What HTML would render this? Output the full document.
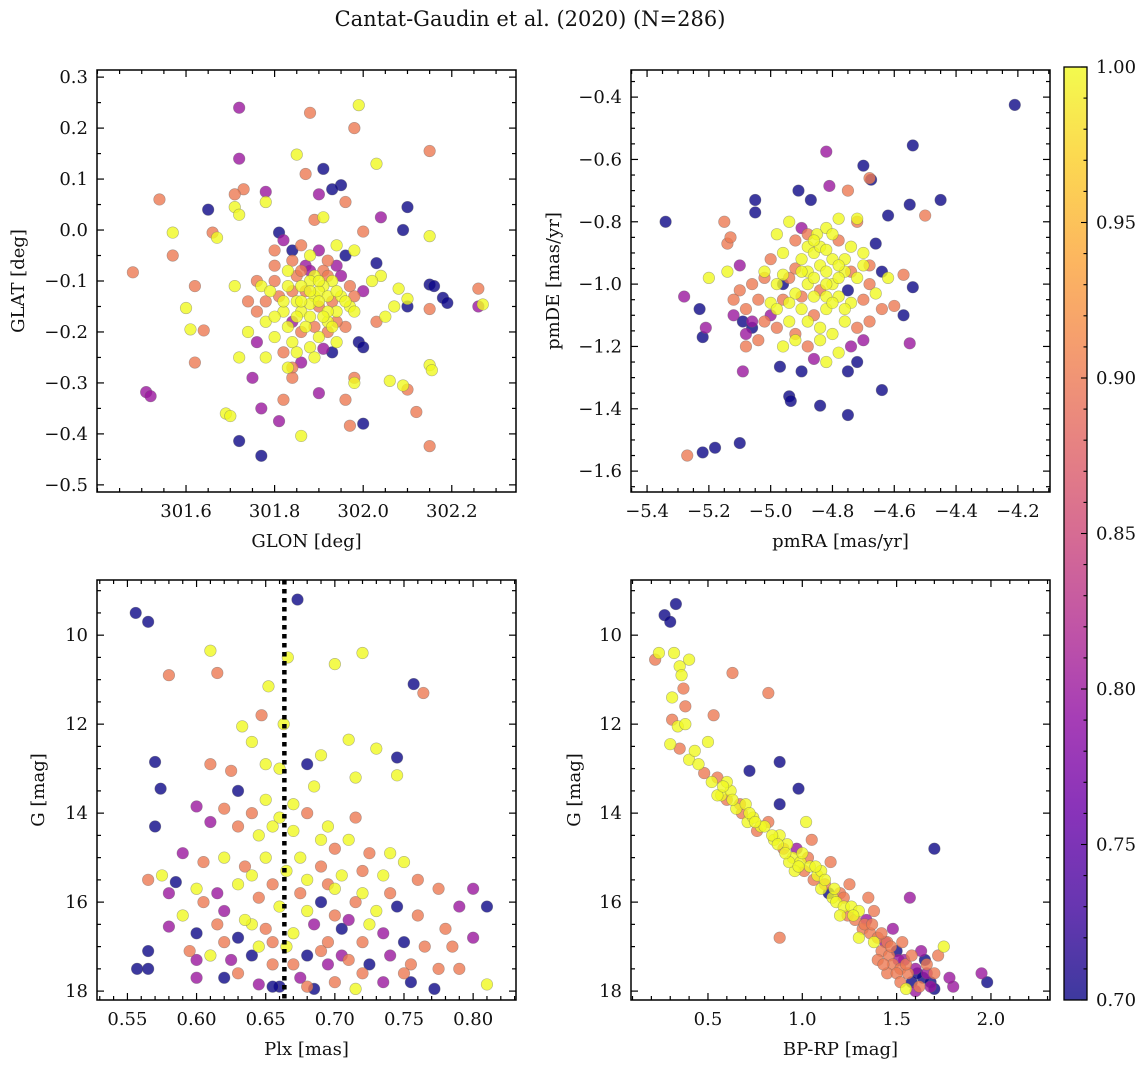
<!DOCTYPE html>
<html><head><meta charset="utf-8">
<style>
body{margin:0;background:#fff;}
svg text{font-family:"DejaVu Serif","Liberation Serif",serif;fill:#111;}
</style></head>
<body>
<svg id="chart" width="1148" height="1067" xmlns="http://www.w3.org/2000/svg">
<defs>
<linearGradient id="plasma" x1="0" y1="1" x2="0" y2="0">
<stop offset="0" stop-color="#0d0887"/><stop offset="0.1" stop-color="#41049d"/><stop offset="0.2" stop-color="#6a00a8"/><stop offset="0.3" stop-color="#8f0da4"/><stop offset="0.4" stop-color="#b12a90"/><stop offset="0.5" stop-color="#cc4778"/><stop offset="0.6" stop-color="#e16462"/><stop offset="0.7" stop-color="#f2844b"/><stop offset="0.8" stop-color="#fca636"/><stop offset="0.9" stop-color="#fcce25"/><stop offset="1" stop-color="#f0f921"/>
</linearGradient>
</defs>
<text x="530" y="26" font-size="21" text-anchor="middle">Cantat-Gaudin et al. (2020) (N=286)</text>
</svg>
<script>
// Panel 1: GLON / GLAT / probability
const p1Points = [[301.72,0.24,.8],[301.88,0.23,.9],[301.99,0.245,1],[301.98,0.20,.9],[301.72,0.14,.8],[302.15,0.155,.9],[301.85,0.148,1],[301.91,0.12,.7],[302.03,0.13,1],[301.54,0.06,.9],[301.73,0.08,.9],[301.71,0.07,.9],[301.78,0.075,.8],[301.87,0.11,.9],[301.95,0.088,.7],[301.93,0.08,.7],[301.65,0.04,.7],[301.71,0.045,1],[301.72,0.03,1],[301.78,0.055,1],[301.90,0.07,.8],[301.57,-0.005,1],[301.66,-0.005,.9],[301.67,-0.015,1],[301.81,-0.005,.7],[301.91,0.025,1],[301.89,0.02,.9],[301.96,0.055,.9],[302.0,-0.003,.9],[302.04,0.025,.8],[302.09,0.0,.7],[302.10,0.045,.7],[302.15,-0.012,1],[301.48,-0.083,.9],[301.57,-0.05,.9],[301.60,-0.153,1],[301.61,-0.195,1],[301.64,-0.197,.9],[301.62,-0.11,.9],[301.62,-0.26,.9],[301.71,-0.11,1],[301.77,-0.11,1],[301.51,-0.318,.8],[301.52,-0.326,.8],[301.69,-0.36,1],[301.70,-0.365,1],[301.72,-0.414,.7],[301.77,-0.443,.7],[301.77,-0.35,.8],[301.81,-0.375,.8],[301.82,-0.333,.9],[301.84,-0.27,.9],[301.84,-0.29,.9],[301.86,-0.404,1],[301.90,-0.32,.8],[301.96,-0.333,.9],[301.97,-0.384,.9],[302.0,-0.38,.7],[301.98,-0.30,1],[301.98,-0.29,.9],[302.06,-0.296,1],[302.09,-0.305,1],[302.10,-0.313,.9],[302.12,-0.357,.9],[302.15,-0.424,.9],[302.15,-0.265,1],[302.155,-0.275,1],[302.15,-0.155,.9],[302.15,-0.107,.7],[302.16,-0.11,.7],[302.18,-0.133,.7],[302.19,-0.143,.7],[302.26,-0.115,.9],[302.26,-0.15,.8],[302.27,-0.146,1],[302.1,-0.15,.7],[302.1,-0.135,1],[302.08,-0.115,1],[302.07,-0.15,1],[302.04,-0.09,1],[302.03,-0.065,.7],[302.02,-0.1,1],[301.99,-0.22,.7],[302.0,-0.23,.7],[301.91,-0.233,.8],[301.93,-0.24,.7],
[301.82,-0.02,.8],[301.84,-0.04,.7],[301.86,-0.03,.9],[301.88,-0.05,1],[301.90,-0.04,.8],[301.92,-0.06,.9],[301.94,-0.03,1],[301.96,-0.05,.7],[301.98,-0.04,1],[301.80,-0.07,.9],[301.83,-0.08,1],[301.85,-0.09,.9],[301.87,-0.07,.8],[301.89,-0.09,1],[301.91,-0.08,.9],[301.93,-0.10,1],[301.95,-0.09,.8],[301.97,-0.11,.9],[301.79,-0.12,1],[301.81,-0.13,.9],[301.83,-0.11,1],[301.85,-0.14,1],[301.87,-0.12,.9],[301.89,-0.13,1],[301.91,-0.11,1],[301.93,-0.14,.9],[301.95,-0.13,1],[301.97,-0.15,1],[301.76,-0.16,.9],[301.78,-0.18,1],[301.82,-0.16,1],[301.84,-0.18,.8],[301.86,-0.16,1],[301.88,-0.17,1],[301.90,-0.15,.9],[301.92,-0.18,1],[301.94,-0.16,1],[301.96,-0.19,.9],[301.74,-0.14,.9],[301.76,-0.22,.8],[301.80,-0.21,1],[301.82,-0.24,.9],[301.84,-0.22,1],[301.86,-0.20,.9],[301.88,-0.23,1],[301.90,-0.21,1],[301.92,-0.20,.9],[301.94,-0.22,1],[301.78,-0.25,1],[301.86,-0.26,.8],[301.88,-0.10,1],[301.90,-0.12,1],[301.86,-0.11,1],[301.92,-0.13,1],[301.88,-0.145,1],[301.74,-0.2,1],[301.72,-0.25,1],[301.75,-0.29,.8],[302.05,-0.17,1],[302.03,-0.18,.9],
[301.84,-0.06,.9],[301.86,-0.08,.9],[301.88,-0.08,.8],[301.90,-0.10,1],[301.92,-0.09,.9],[301.94,-0.12,1],[301.96,-0.14,1],[301.98,-0.13,.9],[301.80,-0.10,.9],[301.82,-0.14,1],[301.84,-0.12,.9],[301.86,-0.14,1],[301.88,-0.12,1],[301.90,-0.14,1],[301.92,-0.16,1],[301.94,-0.18,.9],[301.80,-0.17,1],[301.83,-0.19,1],[301.85,-0.17,1],[301.87,-0.19,1],[301.89,-0.19,.9],[301.91,-0.17,1],[301.93,-0.19,1],[301.85,-0.24,1],[301.89,-0.25,1],[301.83,-0.27,1],[301.78,-0.14,.9],[301.76,-0.10,.9],[301.98,-0.16,1],[302.0,-0.12,.8],[301.94,-0.07,.8],[301.80,-0.04,.9]];
const p1XTicks = [301.6,301.8,302.0,302.2];
const p1YTicks = [-0.5,-0.4,-0.3,-0.2,-0.1,0.0,0.1,0.2,0.3];
// Panel 2: pmRA / pmDE / probability
const p2Points = [[-4.21,-0.425,.7],[-4.54,-0.555,.7],[-4.82,-0.575,.8],[-4.70,-0.62,.7],[-4.68,-0.66,.9],[-4.675,-0.665,.7],[-4.81,-0.685,.8],[-4.75,-0.70,.9],[-4.91,-0.70,.7],[-4.87,-0.73,.7],[-4.62,-0.78,.7],[-4.55,-0.745,.7],[-4.45,-0.73,.7],[-4.50,-0.78,.9],[-5.05,-0.73,.7],[-5.05,-0.77,.7],[-5.34,-0.80,.7],[-5.15,-0.80,.9],[-4.66,-0.87,.7],[-4.64,-0.96,.7],[-4.54,-1.01,.7],[-4.57,-0.97,.9],[-4.60,-1.07,.9],[-4.57,-1.10,.7],[-4.55,-1.19,.8],[-4.64,-1.34,.7],[-4.84,-1.39,.7],[-4.75,-1.42,.7],[-4.75,-1.28,.7],[-4.97,-1.265,.7],[-4.94,-1.36,.7],[-4.935,-1.375,.7],[-4.90,-1.28,.7],[-5.09,-1.28,.8],[-5.10,-1.51,.7],[-5.18,-1.525,.7],[-5.22,-1.54,.7],[-5.27,-1.55,.9],[-5.28,-1.04,.8],[-5.22,-1.17,.7],[-5.21,-1.14,.8],[-5.23,-1.08,.7],[-5.12,-1.1,.8],[-5.09,-1.12,.7],[-5.08,-1.16,.8],[-5.14,-0.87,.9],[-5.13,-0.85,.9],[-5.2,-0.98,1],[-5.1,-0.94,.8],[-4.78,-0.79,1],[-4.72,-0.79,1],
[-4.85,-0.84,1],[-4.82,-0.82,1],[-4.78,-0.86,.9],[-4.88,-0.88,1],[-4.92,-0.86,.9],[-4.96,-0.9,1],[-5.0,-0.92,.9],[-4.74,-0.88,1],[-4.72,-0.8,.9],[-4.70,-0.9,1],[-4.68,-0.94,.9],[-4.8,-0.92,1],[-4.84,-0.94,1],[-4.88,-0.96,1],[-4.92,-0.95,.9],[-4.96,-0.97,1],[-5.02,-0.98,.9],[-5.06,-1.0,.9],[-4.76,-0.96,1],[-4.72,-0.98,1],[-4.68,-1.0,.9],[-4.8,-1.0,1],[-4.84,-1.02,.9],[-4.88,-1.0,1],[-4.92,-1.03,1],[-4.96,-1.05,.9],[-5.0,-1.06,1],[-5.04,-1.05,.9],[-5.08,-1.08,.9],[-4.78,-1.04,1],[-4.74,-1.06,1],[-4.70,-1.05,.9],[-4.66,-1.03,1],[-4.82,-1.08,1],[-4.86,-1.1,.9],[-4.90,-1.08,1],[-4.94,-1.12,1],[-4.98,-1.14,.9],[-5.02,-1.12,.9],[-4.76,-1.12,1],[-4.72,-1.14,.9],[-4.80,-1.16,1],[-4.84,-1.18,1],[-4.88,-1.2,.9],[-4.92,-1.18,1],[-4.96,-1.2,1],[-4.78,-1.22,1],[-4.82,-1.25,1],[-4.86,-1.24,.8],[-4.74,-1.2,.8],[-5.04,-1.18,.9],[-5.08,-1.2,.9],[-5.1,-1.02,.9],[-5.12,-1.05,.9],[-5.14,-0.96,1],[-4.98,-0.84,1],[-4.94,-0.8,1],[-4.9,-0.82,.8],[-4.86,-0.9,1],[-4.82,-0.96,1],[-4.9,-0.92,1],[-4.76,-0.92,1],[-4.84,-0.88,1],[-4.64,-1.08,.9],[-4.62,-0.98,1],[-5.0,-1.1,.8],[-5.06,-1.12,.8],[-4.7,-1.18,.8],[-4.72,-1.25,.7],[-5.06,-1.14,.7],[-4.96,-1.0,.7],[-4.75,-1.02,.7],
[-4.86,-0.86,1],[-4.82,-0.89,1],[-4.78,-0.94,1],[-4.74,-0.96,.9],[-4.9,-0.96,1],[-4.86,-0.98,1],[-4.82,-1.0,1],[-4.78,-0.98,1],[-4.94,-0.98,.9],[-4.98,-1.0,1],[-4.86,-1.04,1],[-4.82,-1.04,1],[-4.9,-1.04,.9],[-4.94,-1.06,1],[-4.8,-1.06,1],[-4.76,-1.08,1],[-4.88,-1.12,1],[-4.84,-1.14,1],[-4.98,-1.08,1],[-4.8,-0.84,1],[-4.88,-0.84,.9],[-5.02,-0.96,1],[-4.70,-0.94,1],[-4.68,-1.12,.9],[-4.92,-1.16,.9]];
const p2XTicks = [-5.4,-5.2,-5.0,-4.8,-4.6,-4.4,-4.2];
const p2YTicks = [-1.6,-1.4,-1.2,-1.0,-0.8,-0.6,-0.4];
// Panel 3: Plx / G / probability
const p3Points = [[.556,9.5,.7],[.565,9.7,.7],[.673,9.2,.7],[.666,10.5,1],[.70,10.65,1],[.72,10.4,1],[.61,10.35,1],[.615,10.85,.9],[.58,10.9,.9],[.757,11.1,.7],[.764,11.3,.9],[.652,11.15,1],[.647,11.8,.9],[.663,12.0,1],[.633,12.05,1],[.71,12.35,1],[.73,12.55,1],[.745,12.75,.7],[.745,13.15,1],[.715,13.2,1],[.57,12.85,.7],[.574,13.45,.7],[.57,14.3,.7],[.61,12.9,.9],[.625,13.05,.9],[.63,13.5,.7],[.64,12.4,1],[.65,12.9,1],[.66,13.0,1],[.68,12.9,.7],[.69,12.7,1],[.685,13.4,1],
[.60,13.85,.8],[.61,14.2,.8],[.62,13.9,.9],[.63,14.3,.9],[.645,14.5,1],[.66,14.1,1],[.67,14.4,1],[.68,14.0,.9],[.69,14.6,1],[.70,14.8,.9],[.71,14.6,1],[.725,14.9,.9],[.74,14.9,1],[.75,15.1,1],[.59,14.9,.8],[.605,15.1,.9],[.62,15.0,1],[.635,15.2,.9],[.65,15.0,1],[.665,15.3,1],[.675,15.0,1],[.69,15.2,.9],[.705,15.4,1],[.72,15.3,.9],[.735,15.4,1],[.76,15.5,.9],[.775,15.7,.9],[.80,15.7,.8],[.575,15.4,1],[.565,15.5,.9],[.585,15.55,.7],[.60,15.7,1],[.615,15.8,.8],[.63,15.6,1],[.645,15.9,.9],[.66,16.1,1],[.675,15.8,.9],[.69,16.0,.7],[.70,15.7,1],[.715,16.0,.9],[.73,16.2,1],[.745,16.1,.7],[.76,16.3,.9],[.79,16.1,.8],[.81,16.1,.7],[.59,16.3,1],[.58,16.55,.8],[.60,16.7,.7],[.615,16.5,.9],[.63,16.8,.7],[.64,16.5,1],[.655,16.9,.9],[.67,16.7,1],[.685,16.5,.8],[.695,16.9,.9],[.705,16.6,.7],[.72,16.9,.9],[.735,16.7,.8],[.75,16.9,.7],[.765,17.0,.9],[.785,17.0,.9],[.80,16.8,.8],[.565,17.1,.7],[.595,17.1,.9],[.61,17.2,1],[.625,17.3,.8],[.64,17.2,.7],[.655,17.4,.9],[.665,17.0,1],[.68,17.2,.7],[.695,17.4,.8],[.71,17.3,.9],[.725,17.4,.7],[.74,17.2,.8],[.755,17.4,.9],[.775,17.5,.9],[.79,17.5,.9],[.557,17.5,.7],[.565,17.5,.7],[.60,17.7,.8],[.63,17.6,.9],[.645,17.85,.8],[.66,17.9,.7],[.675,17.7,.8],[.685,17.95,.7],[.70,17.8,.9],[.715,17.95,1],[.735,17.8,.8],[.755,17.8,.7],[.772,17.95,.7],[.81,17.85,1],[.68,17.9,.9],[.655,17.9,.7],[.62,17.7,.7],
[.64,14.0,.9],[.655,14.3,1],[.65,13.7,1],[.67,13.8,1],[.695,14.3,1],[.715,14.1,.9],[.64,15.4,1],[.655,15.6,.9],[.68,15.5,1],[.695,15.6,.9],[.72,15.8,1],[.74,15.8,.9],[.62,16.2,.8],[.635,16.4,1],[.65,16.6,.9],[.68,16.2,1],[.70,16.3,.9],[.71,16.4,.8],[.725,16.5,1],[.62,16.9,.9],[.645,17.0,1],[.67,17.4,.9],[.69,17.1,.9],[.705,17.2,.8],[.72,17.6,.9],[.75,17.6,.9],[.60,17.3,.8],[.605,16.0,.9],[.58,15.8,.8],[.78,16.6,.9]];
const p3XTicks = [0.55,0.60,0.65,0.70,0.75,0.80];
const p3YTicks = [10,12,14,16,18];
const plxMedian = [0.6635];
// Panel 4: BP-RP / G / probability
const p4Points = [[.27,9.55,.7],[.33,9.3,.7],[.30,9.7,.7],[.72,13.05,.7],[.88,12.85,.7],[.98,13.45,.7],[.88,13.8,.7],[1.70,14.8,.7],[1.57,15.9,.8],[1.98,17.8,.7],[1.95,17.6,.8],[.63,10.85,.9],[.82,11.3,.9],[.88,16.8,.9],[.53,11.8,.9],[.40,10.55,1],[.35,10.7,1],[.32,10.4,1],[.24,10.4,1],[.22,10.55,.9],[.36,10.9,1],[.37,11.2,.9],[.31,11.4,1],[.38,11.6,.9],[.31,11.9,.9],[.34,12.05,1],[.38,12.0,1],[.30,12.45,1],[.35,12.55,.9],[.40,12.8,1],[.43,12.6,1],[.50,12.4,1],[.45,12.9,1],
[.48,13.1,.9],[.52,13.3,1],[.55,13.2,.9],[.57,13.6,1],[.60,13.7,.9],[.62,13.5,1],[.65,13.9,1],[.68,14.0,.9],[.71,14.2,1],[.74,14.1,1],[.76,14.4,.9],[.78,14.3,1],[.82,14.2,.9],[.85,14.6,1],[.88,14.5,1],[.90,14.8,.9],[.92,14.7,1],[.95,15.0,1],[.97,14.8,.8],[.99,15.1,1],[1.01,15.3,.9],[1.02,14.2,1],[1.04,15.2,1],[1.06,15.5,.9],[1.08,15.4,1],[1.10,15.7,1],[1.12,15.6,.9],[1.14,15.8,.7],[1.16,15.9,1],[1.18,16.0,1],[1.20,15.8,.9],[1.22,16.1,1],[1.24,16.3,.9],[1.26,16.1,1],[1.28,16.4,.9],[1.30,16.2,1],[1.32,16.6,.9],[1.34,16.4,.8],[1.36,16.7,.9],[1.38,16.9,1],[1.40,16.8,.9],[1.42,17.1,.9],[1.44,16.9,.8],[1.46,17.2,.9],[1.48,17.4,.9],[1.50,17.1,.7],[1.52,17.5,.9],[1.54,17.3,.8],[1.56,17.6,.9],[1.58,17.8,.7],[1.60,17.5,.8],[1.62,17.9,.9],[1.64,17.7,.7],[1.66,17.4,.9],[1.68,17.9,.8],[1.70,17.6,.9],[1.72,17.2,.9],[1.75,17.0,1],[1.80,17.9,.8],[1.78,17.7,.8],[1.55,17.95,1],[1.45,17.6,.9],[1.35,15.9,.9],[1.25,15.6,.9],[1.15,15.1,.9],[1.05,14.6,.9],[1.00,14.9,1],[0.96,15.3,1],[1.10,15.3,1],[1.20,16.3,1],[1.30,16.8,1],[1.40,17.3,.9],[1.50,17.6,.9],[1.60,18.0,.8],[1.48,16.6,.8],[1.53,16.9,.9],[.93,15.1,1],[.80,14.3,1],[.70,13.8,1],[.60,13.3,1],[.55,13.6,1],[1.63,17.1,.8],[1.68,17.8,.7],[1.70,17.95,.7],[1.65,17.3,.7],[1.38,16.2,.9],[1.45,16.9,.9],
[.58,13.4,1],[.63,13.7,1],[.67,13.8,.9],[.72,14.0,1],[.75,14.2,1],[.84,14.5,1],[.87,14.7,1],[.91,14.9,1],[.98,15.2,1],[1.03,15.0,.9],[1.07,15.2,1],[1.12,15.5,1],[1.17,15.7,1],[1.22,15.9,.9],[1.27,16.3,1],[1.33,16.5,.9],[1.37,16.5,.9],[1.42,16.7,.9],[1.47,17.0,.9],[1.51,17.3,.8],[1.55,17.4,.9],[1.58,17.2,.9],[1.61,17.6,.7],[1.66,17.6,.8],[1.52,17.8,.9],[1.43,17.4,.9]];
const p4XTicks = [0.5,1.0,1.5,2.0];
const p4YTicks = [10,12,14,16,18];
const cbarTicks = [0.70,0.75,0.80,0.85,0.90,0.95,1.00];

const NS = "http://www.w3.org/2000/svg";
const svg = document.getElementById('chart');
function mk(tag, attrs, parent){const e=document.createElementNS(NS,tag);for(const k in attrs)e.setAttribute(k,attrs[k]);(parent||svg).appendChild(e);return e;}
const stops=[[0,[13,8,135]],[.1,[65,4,157]],[.2,[106,0,168]],[.3,[143,13,164]],[.4,[177,42,144]],[.5,[204,71,120]],[.6,[225,100,98]],[.7,[242,132,75]],[.8,[252,166,54]],[.9,[252,206,37]],[1,[240,249,33]]];
function plasma(p){let t=Math.max(0,Math.min(1,(p-0.7)/0.3));for(let i=1;i<stops.length;i++){if(t<=stops[i][0]){const a=stops[i-1],b=stops[i];const f=(t-a[0])/(b[0]-a[0]);const c=a[1].map((v,j)=>Math.round(v+(b[1][j]-v)*f));return `rgb(${c[0]},${c[1]},${c[2]})`;}}return 'rgb(240,249,33)';}
function fmt(v,d){return v.toFixed(d).replace('-','\u2212');}

function panel(cfg){
  const {name,x0,y0,x1,y1,xd,yd,xTicks,yTicks,xMinor,yMinor,xDec,yDec,xLabel,yLabel,points,invertY,yLabelX}=cfg;
  const g=mk('g',{});
  
  
  const sx=v=>x0+(v-xd[0])/(xd[1]-xd[0])*(x1-x0);
  const sy=invertY?(v=>y0+(v-yd[0])/(yd[1]-yd[0])*(y1-y0)):(v=>y1-(v-yd[0])/(yd[1]-yd[0])*(y1-y0));
  const clip='clip-'+name;
  const cp=mk('clipPath',{id:clip},g);mk('rect',{x:x0,y:y0,width:x1-x0,height:y1-y0},cp);
  const pg=mk('g',{'clip-path':`url(#${clip})`},g);
  const sorted=points.slice().sort((a,b)=>a[2]-b[2]);
  sorted.forEach(pt=>{
    const c=mk('circle',{cx:sx(pt[0]),cy:sy(pt[1]),r:5.8,fill:plasma(pt[2]),'fill-opacity':0.8,stroke:'#666','stroke-opacity':0.5,'stroke-width':0.6},pg);
    
    
  });
  if(cfg.vline){cfg.vline.forEach(v=>{const l=mk('line',{x1:sx(v),x2:sx(v),y1:y0,y2:y1,stroke:'#000','stroke-width':4.5,'stroke-dasharray':'4.5,4.5'},pg);
    
    });}
  const tg=mk('g',{stroke:'#000','stroke-width':1.2},g);
  const xs=xTicks[1]-xTicks[0], ys=yTicks[1]-yTicks[0];
  for(let v=xTicks[0]-xs;v<=xd[1]+1e-9;v+=xs/xMinor){if(v<xd[0]-1e-9)continue;const X=sx(v);const maj=xTicks.some(t=>Math.abs(t-v)<1e-6);const L=maj?7:4;mk('line',{x1:X,x2:X,y1:y1,y2:y1-L},tg);mk('line',{x1:X,x2:X,y1:y0,y2:y0+L},tg);}
  for(let v=yTicks[0]-ys;v<=Math.max(yd[0],yd[1])+1e-9;v+=ys/yMinor){if(v<Math.min(yd[0],yd[1])-1e-9)continue;const Y=sy(v);const maj=yTicks.some(t=>Math.abs(t-v)<1e-6);const L=maj?7:4;mk('line',{x1:x0,x2:x0+L,y1:Y,y2:Y},tg);mk('line',{x1:x1,x2:x1-L,y1:Y,y2:Y},tg);}
  xTicks.forEach(v=>{const t=mk('text',{x:sx(v),y:y1+25,'font-size':18,'text-anchor':'middle'},g);t.textContent=fmt(v,xDec);
    
    });
  yTicks.forEach(v=>{const t=mk('text',{x:x0-9,y:sy(v)+6,'font-size':18,'text-anchor':'end'},g);t.textContent=fmt(v,yDec);
    
    });
  mk('rect',{x:x0,y:y0,width:x1-x0,height:y1-y0,fill:'none',stroke:'#000','stroke-width':1.5},g);
  const xl=mk('text',{x:(x0+x1)/2,y:y1+55,'font-size':18,'text-anchor':'middle'},g);xl.textContent=xLabel;
  
  
  const yl=mk('text',{x:0,y:0,'font-size':18,'text-anchor':'middle',transform:`translate(${yLabelX},${(y0+y1)/2}) rotate(-90)`},g);yl.textContent=yLabel;
  
  
}
panel({name:'glon-glat-panel',x0:97,y0:70,x1:516,y1:492,xd:[301.399,302.345],yd:[-0.514,0.314],xTicks:p1XTicks,yTicks:p1YTicks,xMinor:4,yMinor:2,xDec:1,yDec:1,xLabel:'GLON [deg]',yLabel:'GLAT [deg]',points:p1Points,yLabelX:24});
panel({name:'propermotion-panel',x0:631,y0:70,x1:1050,y1:492,xd:[-5.452,-4.096],yd:[-1.667,-0.313],xTicks:p2XTicks,yTicks:p2YTicks,xMinor:4,yMinor:4,xDec:1,yDec:1,xLabel:'pmRA [mas/yr]',yLabel:'pmDE [mas/yr]',points:p2Points,yLabelX:559});
panel({name:'parallax-mag-panel',x0:97,y0:580,x1:516,y1:1000,xd:[0.528,0.831],yd:[8.76,18.2],xTicks:p3XTicks,yTicks:p3YTicks,xMinor:5,yMinor:4,xDec:2,yDec:0,xLabel:'Plx [mas]',yLabel:'G [mag]',points:p3Points,invertY:true,vline:plxMedian,yLabelX:44});
panel({name:'cmd-panel',x0:631,y0:580,x1:1050,y1:1000,xd:[0.092,2.313],yd:[8.76,18.2],xTicks:p4XTicks,yTicks:p4YTicks,xMinor:5,yMinor:4,xDec:1,yDec:0,xLabel:'BP-RP [mag]',yLabel:'G [mag]',points:p4Points,invertY:true,yLabelX:580});

const cb=mk('g',{});


const cy0=67,cy1=1000,cx0=1064,cx1=1087;
const cy=v=>cy1-(v-0.7)/0.3*(cy1-cy0);
mk('rect',{x:cx0,y:cy0,width:cx1-cx0,height:cy1-cy0,fill:'url(#plasma)','fill-opacity':0.8,stroke:'none'},cb);
mk('rect',{x:cx0,y:cy0,width:cx1-cx0,height:cy1-cy0,fill:'none',stroke:'#000','stroke-width':1.3},cb);
for(let i=0;i<=30;i++){const v=0.7+i*0.01;const Y=cy(v);const maj=i%5===0;mk('line',{x1:cx1,x2:cx1-(maj?6:3.5),y1:Y,y2:Y,stroke:'#000','stroke-width':1.1},cb);}
cbarTicks.forEach(v=>{const t=mk('text',{x:cx1+9,y:cy(v)+6,'font-size':18},cb);t.textContent=v.toFixed(2);
  
  });
</script>
</body></html>
